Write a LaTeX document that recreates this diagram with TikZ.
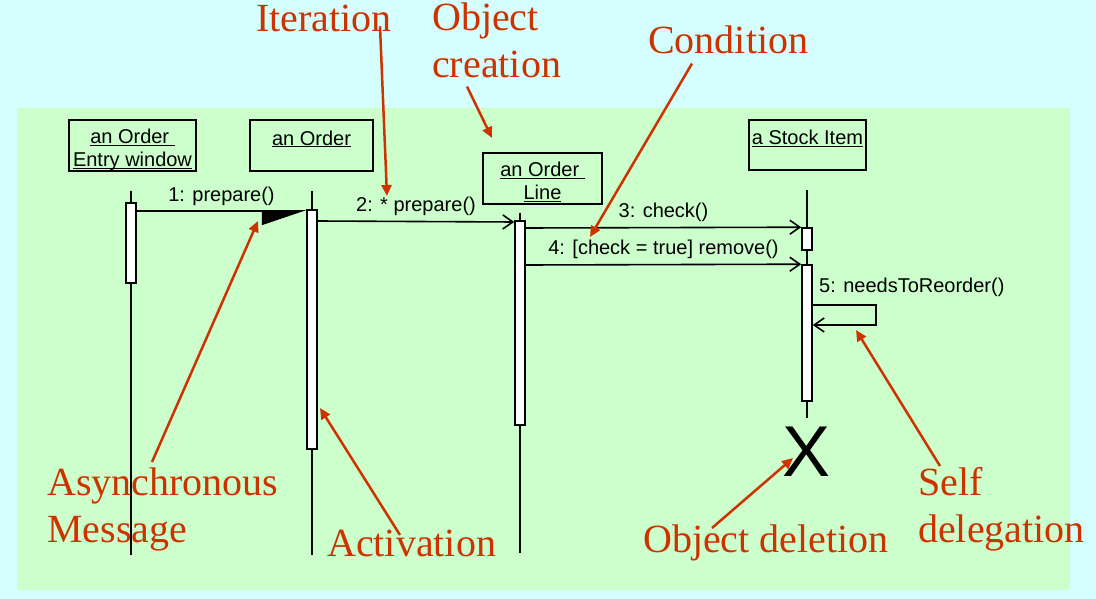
\documentclass[tikz,border=0pt]{standalone}
\usepackage{fontspec}
\setmainfont{Liberation Serif}
\setsansfont{Liberation Sans}
\usetikzlibrary{arrows.meta}
\definecolor{skycyan}{HTML}{D4FFFE}
\definecolor{panelgreen}{HTML}{CCFFCC}
\definecolor{noteRed}{HTML}{CC3300}
\newcommand{\objname}[1]{\underline{\raisebox{0pt}[\height][0pt]{#1}}}

\begin{document}
\begin{tikzpicture}[
        x=1pt, y=-1pt,
        object/.style={
            rectangle,
            draw,
            line width=1.6pt,
            align=center,
            inner sep=0pt,
            font=\sffamily\fontsize{20}{23}\selectfont
        },
        activation/.style={
            rectangle,
            draw,
            fill=white,
            line width=1.6pt,
            minimum width=10pt,
            inner sep=0pt
        },
        lifeline/.style={
            line width=1.6pt
        },
        msg/.style={
            -{Straight Barb[length=10pt,width=14pt]},
            line width=1.6pt
        },
        msglabel/.style={
            font=\sffamily\fontsize{20}{23}\selectfont,
            inner sep=0pt
        },
        note/.style={
            font=\fontsize{40}{47}\selectfont,
            text=noteRed,
            align=left,
            inner sep=0pt,
            anchor=north west
        },
        pointer/.style={
            -{Triangle[length=11pt,width=10pt]},
            draw=noteRed,
            line width=2.5pt
        }
    ]

    % Background and panel
    \fill[skycyan] (0,0) rectangle (1096,599);
    \useasboundingbox (0,0) rectangle (1096,599);
    \fill[panelgreen] (17,108) rectangle (1070,590);

    % Lifelines
    \coordinate (ewTop) at (131,191);
    \coordinate (ewEnd) at (131,555);
    \coordinate (orTop) at (312,191);
    \coordinate (orEnd) at (312,555);
    \coordinate (olTop) at (520,213);
    \coordinate (olEnd) at (520,553);
    \coordinate (siTop) at (807,190);
    \coordinate (siEnd) at (807,418);
    \draw[lifeline] (ewTop) -- (ewEnd);
    \draw[lifeline] (orTop) -- (orEnd);
    \draw[lifeline] (olTop) -- (olEnd);
    \draw[lifeline] (siTop) -- (siEnd);

    % Activations
    \node[activation, minimum height=80pt] (eact) at (131,243) {};
    \node[activation, minimum height=239pt] (oact) at (312,329.5) {};
    \node[activation, minimum height=204pt] (lact) at (520,323) {};
    \node[activation, minimum height=22pt] (sact1) at (807,239) {};
    \node[activation, minimum height=136pt] (sact2) at (807,333) {};

    % Objects
    \node[object, minimum width=127pt, minimum height=51pt] (entry) at (132.5,145.5)
        {\rule{0pt}{22pt}\objname{an Order\ }\\\objname{Entry window}};
    \node[object, minimum width=123pt, minimum height=51pt] (order) at (311.5,145.5)
        {\rule{0pt}{22pt}\objname{an Order}\\\mbox{}};
    \node[object, minimum width=119pt, minimum height=51pt] (line) at (542.5,178.5)
        {\rule{0pt}{22pt}\objname{an Order\ }\\\objname{Line}};
    \node[object, minimum width=117pt, minimum height=50pt] (stock) at (807.5,145)
        {\rule{0pt}{22pt}\objname{a Stock Item}\\\mbox{}};

    % Messages
    \draw[line width=1.6pt, -{Triangle[harpoon,swap,length=42pt,width=28pt]}]
        (eact.east |- 0,211) -- node[msglabel, above=5pt] {1: prepare()} (oact.west |- 0,211);
    \draw[msg] (oact.east |- 0,221) -- node[msglabel, above=5pt] {2: * prepare()} (lact.west |- 0,222);
    \draw[msg] (lact.east |- 0,228) -- node[msglabel, above=5pt] {3: check()} (sact1.north west);
    \draw[msg] (lact.east |- 0,265) -- node[msglabel, above=5pt] {4: [check = true] remove()} (sact2.north west);
    \draw[msg] (sact2.east |- 0,305) -- ++(63,0) -- ++(0,20) -- (sact2.east |- 0,325);
    \node[msglabel, anchor=west] (reorder) at (819,287) {5: needsToReorder()};

    % Deletion
    \node[font=\sffamily\fontsize{72}{72}\selectfont, inner sep=0pt] (cross) at (807,452) {X};

    % Notes
    \node[note] (iter) at (256,5) {Iteration};
    \node[note] (create) at (432,3) {Object\\creation};
    \node[note] (cond) at (648,26) {Condition};
    \node[note] (async) at (47,468) {Asynchronous\\Message};
    \node[note] (activ) at (327,530) {Activation};
    \node[note] (delete) at (643,525) {Object deletion};
    \node[note] (selfdel) at (918,467) {Self\\delegation};

    \coordinate (iterTip) at (387,196);
    \coordinate (createTip) at (492,138);
    \coordinate (condTip) at (590,237);
    \coordinate (asyncTip) at (258,221);
    \coordinate (activTip) at (320,408);
    \coordinate (deleteTip) at (793,458);
    \coordinate (selfTip) at (856,330);

    \draw[pointer] (iter.south -| 380,0) ++(0,-6) -- (iterTip);
    \draw[pointer] (create.south west) ++(35,8) -- (createTip);
    \draw[pointer] (cond.south west) ++(44,9) -- (condTip);
    \draw[pointer] (async.north west) ++(105,-6) -- (asyncTip);
    \draw[pointer] (activ.north west) ++(73,5) -- (activTip);
    \draw[pointer] (delete.north west) ++(69,3) -- (deleteTip);
    \draw[pointer] (selfdel.north west) ++(22,-1) -- (selfTip);

\end{tikzpicture}
\end{document}
